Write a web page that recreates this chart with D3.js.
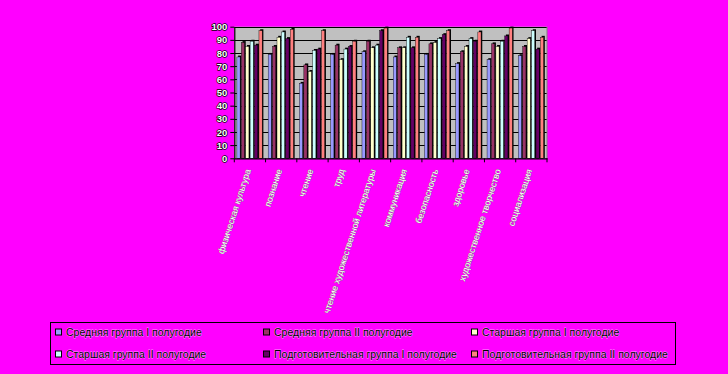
<!DOCTYPE html>
<html><head><meta charset="utf-8">
<script src="https://cdn.jsdelivr.net/npm/d3@7"></script>
<style>
html,body{margin:0;padding:0;background:#FF00FF;}
svg{display:block;}
</style></head>
<body>
<svg id="chart" width="728" height="374"></svg>
<script>
const categories = ["физическая культура","познание","чтение","труд","чтение художественной литературы","коммуникация","безопасность","здоровье","художественное творчество","социализация"];
const seriesNames = ["Средняя группа I полугодие","Средняя группа II полугодие","Старшая группа I полугодие","Старшая группа II полугодие","Подготовительная группа I полугодие","Подготовительная группа II полугодие"];
const seriesColors = ["#9999FF","#993366","#FFFFCC","#CCFFFF","#660066","#FF8080"];
const sredI   = [77,79,57,79,81,77,79,72,75,78];
const sredII  = [88,85,71,86,89,84,87,81,87,85];
const starI   = [85,92,66,75,84,84,88,85,85,91];
const starII  = [89,96,82,83,86,92,91,91,89,97];
const podI    = [86,91,83,85,97,84,94,89,93,83];
const podII   = [97,98,97,89,99,92,97,96,99,92];
const seriesValues = [sredI,sredII,starI,starII,podI,podII];
const yTicks = [0,10,20,30,40,50,60,70,80,90,100];

const svg = d3.select("#chart");
const L=234.3, R=547, T=26.7, B=158.3;

svg.append("rect").attr("x",L).attr("y",T).attr("width",R-L).attr("height",B-T).attr("fill","#C0C0C0");

const y = d3.scaleLinear().domain([0,100]).range([B,T]);
const x0 = d3.scaleBand().domain(categories).range([L,R]);
const x1 = d3.scaleBand().domain(d3.range(seriesNames.length)).range([2.6, x0.bandwidth()-2.2]);

// gridlines
svg.append("g").selectAll("line").data(yTicks.filter(d=>d>0)).join("line")
  .attr("x1",L).attr("x2",R).attr("y1",d=>Math.round(y(d))+0.5).attr("y2",d=>Math.round(y(d))+0.5)
  .attr("stroke","#000").attr("stroke-width",1);
svg.append("line").attr("x1",R).attr("x2",R).attr("y1",T).attr("y2",B).attr("stroke","#808080");

// bars
const groups = svg.append("g").selectAll("g").data(categories).join("g")
  .attr("transform",d=>`translate(${x0(d)},0)`);
groups.each(function(cat,ci){
  const g = d3.select(this);
  seriesValues.forEach((vals,si)=>{
    const v = vals[ci];
    const bx = x1(si), w = x1.bandwidth();
    g.append("rect").attr("x",bx+1.2).attr("y",y(v)-1.4).attr("width",w-1.2).attr("height",B-y(v)+1.4).attr("fill","#000");
    g.append("rect").attr("x",bx).attr("y",y(v)).attr("width",w-1.2).attr("height",B-y(v))
      .attr("fill",seriesColors[si]).attr("stroke","#000").attr("stroke-width",0.4);
  });
});

// y axis
const yAxis = svg.append("g").attr("transform",`translate(${L},0)`)
  .call(d3.axisLeft(y).tickValues(yTicks).tickSize(4).tickSizeOuter(0).tickPadding(3));
yAxis.select(".domain").attr("stroke","#000").attr("stroke-width",1.2);
yAxis.selectAll(".tick line").attr("stroke","#000");
yAxis.selectAll("text").attr("font-family","Liberation Sans, Arial, sans-serif").attr("font-size","9.5px")
  .attr("font-weight","bold").attr("fill","#fff").attr("stroke","#000").attr("stroke-width",1.3).attr("paint-order","stroke");

// x axis
const xAxis = svg.append("g").attr("transform",`translate(0,${B})`)
  .call(d3.axisBottom(x0).tickSize(0).tickFormat(""));
xAxis.select(".domain").attr("stroke","#000").attr("stroke-width",1.2);
svg.append("g").selectAll("line").data(d3.range(categories.length+1)).join("line")
  .attr("x1",i=>L+i*x0.step()).attr("x2",i=>L+i*x0.step()).attr("y1",B).attr("y2",B+4).attr("stroke","#000");

// category labels
svg.append("g").selectAll("text").data(categories).join("text")
  .attr("transform",d=>`translate(${x0(d)+x0.bandwidth()/2-2},${B+11}) rotate(-72)`)
  .attr("text-anchor","end").attr("dy","0.35em")
  .attr("font-family","Liberation Sans Narrow, Arial Narrow, Liberation Sans, sans-serif").attr("font-size","9px")
  .attr("fill","#fff").attr("stroke","#777").attr("stroke-width",0.6).attr("paint-order","stroke")
  .text(d=>d);

// legend
const lg = svg.append("g");
lg.append("rect").attr("x",50.5).attr("y",322.5).attr("width",625).attr("height",42).attr("fill","none").attr("stroke","#000");
const colX = [55,263,471], rowY = [332.5,354.5];
seriesNames.forEach((n,i)=>{
  const cx = colX[i%3], cy = rowY[Math.floor(i/3)];
  lg.append("rect").attr("x",cx+0.5).attr("y",cy-3.5).attr("width",6).attr("height",6)
    .attr("fill",seriesColors[i]).attr("stroke","#000");
  lg.append("text").attr("x",cx+11).attr("y",cy).attr("dy","0.35em")
    .attr("font-family","Liberation Sans, Arial, sans-serif").attr("font-size","10.5px").attr("fill","#000")
    .attr("stroke","#fff").attr("stroke-width",0.8).attr("stroke-opacity",0.6).attr("paint-order","stroke")
    .text(n);
});
</script>
</body></html>
